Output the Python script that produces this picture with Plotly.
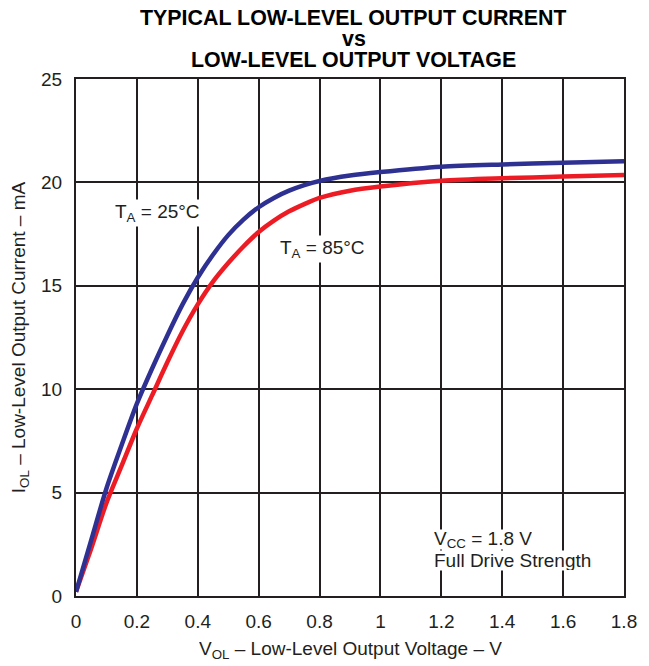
import plotly.graph_objects as go

v_ol = [0.0, 0.05, 0.1, 0.15, 0.2, 0.25, 0.3, 0.35, 0.4, 0.45, 0.5, 0.55, 0.6, 0.65, 0.7, 0.75, 0.8, 0.9, 1.0, 1.2, 1.4, 1.6, 1.8]
i_25 = [0.2, 2.7, 5.2, 7.3, 9.3, 11.0, 12.6, 14.1, 15.4, 16.5, 17.45, 18.2, 18.8, 19.25, 19.6, 19.87, 20.07, 20.33, 20.5, 20.76, 20.87, 20.95, 21.02]
i_85 = [0.2, 2.3, 4.5, 6.3, 8.1, 9.7, 11.3, 12.8, 14.1, 15.2, 16.1, 16.9, 17.6, 18.15, 18.6, 18.95, 19.25, 19.6, 19.8, 20.08, 20.2, 20.28, 20.36]

x_ticks = [0, 0.2, 0.4, 0.6, 0.8, 1, 1.2, 1.4, 1.6, 1.8]
y_ticks = [0, 5, 10, 15, 20, 25]
title_lines = ["TYPICAL LOW-LEVEL OUTPUT CURRENT", "vs", "LOW-LEVEL OUTPUT VOLTAGE"]
note_lines = ["V<sub>CC</sub> = 1.8 V", "Full Drive Strength"]
x_title = "V<sub>OL</sub> – Low-Level Output Voltage – V"
y_title = "I<sub>OL</sub> – Low-Level Output Current – mA"

fig = go.Figure()
fig.add_trace(go.Scatter(x=v_ol, y=i_85, mode="lines",
                         line=dict(color="#ed1c24", width=4.5, shape="spline", smoothing=0.8), showlegend=False))
fig.add_trace(go.Scatter(x=v_ol, y=i_25, mode="lines",
                         line=dict(color="#2e3192", width=4.5, shape="spline", smoothing=0.8), showlegend=False))

font = "Liberation Sans, Arial, sans-serif"
txt = "#231f20"
fig.update_layout(
    width=633, height=658,
    margin=dict(l=68, r=17, t=71, b=70, autoexpand=False),
    paper_bgcolor="white", plot_bgcolor="white",
    font=dict(family=font, size=19, color=txt),
    xaxis=dict(
        range=[0, 1.8], tickvals=x_ticks, ticktext=[("%g" % t) for t in x_ticks],
        showgrid=True, gridcolor=txt, gridwidth=2,
        showline=True, linecolor=txt, linewidth=2, mirror=True,
        zeroline=False, ticks="outside", ticklen=7, tickcolor="rgba(0,0,0,0)",
        automargin=False,
        tickfont=dict(size=19),
    ),
    yaxis=dict(
        range=[0, 25], tickvals=y_ticks,
        showgrid=True, gridcolor=txt, gridwidth=2,
        showline=True, linecolor=txt, linewidth=2, mirror=True,
        zeroline=False, ticks="outside", ticklen=8, tickcolor="rgba(0,0,0,0)",
        automargin=False,
        title=dict(text=y_title, standoff=10, font=dict(size=19)),
        tickfont=dict(size=19),
    ),
)

fig.add_annotation(xref="paper", yref="paper", x=0.5, y=-0.1044, text=x_title,
                   showarrow=False, xanchor="center", yanchor="middle", height=20, borderpad=0,
                   font=dict(family=font, size=19, color=txt))

for line, ypos in zip(title_lines, [1.1179, 1.0774, 1.0377]):
    fig.add_annotation(xref="paper", yref="paper", x=0.507, y=ypos, text="<b>%s</b>" % line,
                       showarrow=False, xanchor="center", yanchor="middle", height=18,
                       valign="middle", borderpad=0,
                       font=dict(family=font, size=21.4, color="#000000"))

ann_font = dict(family=font, size=19, color=txt)
fig.add_annotation(x=0.1215, y=18.5, text="T<sub>A</sub> = 25°C", showarrow=False,
                   xanchor="left", yanchor="middle", bgcolor="white", font=ann_font, borderpad=1)
fig.add_annotation(x=0.6635, y=16.8, text="T<sub>A</sub> = 85°C", showarrow=False,
                   xanchor="left", yanchor="middle", bgcolor="white", font=ann_font, borderpad=1)
for line, ypos in zip(note_lines, [2.71, 1.74]):
    fig.add_annotation(x=1.1726, y=ypos, text=line, showarrow=False, height=19,
                       xanchor="left", yanchor="middle", align="left", valign="middle",
                       bgcolor="white", font=ann_font, borderpad=0)

fig.write_html("out.html")
